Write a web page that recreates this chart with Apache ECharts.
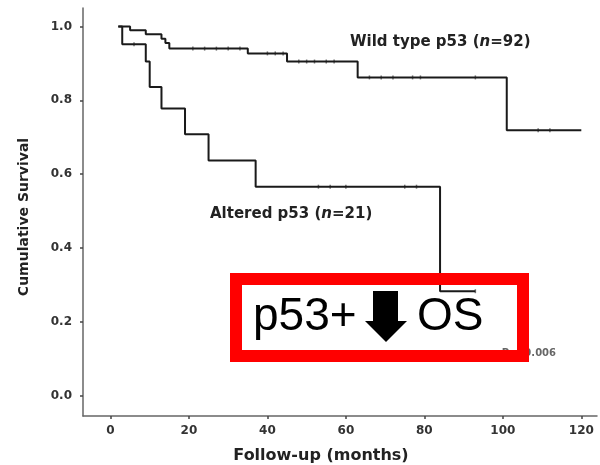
<!DOCTYPE html>
<html>
<head>
<meta charset="utf-8">
<script src="https://cdn.jsdelivr.net/npm/echarts@6/dist/echarts.min.js"></script>
<style>html,body{margin:0;padding:0;background:#fff;}#c{width:600px;height:465px;}</style>
</head>
<body>
<div id="c"></div>
<script>
// Wild type p53 (n=92)
var wildTimes = [2, 5, 9, 13, 14, 15, 35, 45, 63, 101, 120];
var wildSurv  = [1.0, 0.99, 0.979, 0.967, 0.955, 0.94, 0.927, 0.905, 0.862, 0.719, 0.719];
var wildCensorTimes = [21, 24, 27, 30, 33, 40, 42, 44, 48, 50, 52, 55, 57, 66, 69, 72, 77, 79, 93, 109, 112];
// Altered p53 (n=21)
var altTimes = [2, 3, 9, 10, 13, 19, 25, 37, 84, 93];
var altSurv  = [1.0, 0.952, 0.905, 0.836, 0.778, 0.708, 0.637, 0.566, 0.283, 0.283];
var altCensorTimes = [6, 53, 56, 60, 75, 78, 93];
var xTicks = [0, 20, 40, 60, 80, 100, 120];
var yTicks = [0.0, 0.2, 0.4, 0.6, 0.8, 1.0];

function stepValueAt(times, surv, t) {
  var v = surv[0];
  for (var i = 0; i < times.length; i++) { if (times[i] <= t) v = surv[i]; }
  return v;
}
function pairs(a, b) { return a.map(function (x, i) { return [x, b[i]]; }); }
var wildCensor = wildCensorTimes.map(function (t) { return [t, stepValueAt(wildTimes, wildSurv, t)]; });
var altCensor = altCensorTimes.map(function (t) { return [t, stepValueAt(altTimes, altSurv, t)]; });

var chart = echarts.init(document.getElementById('c'), null, {renderer: 'canvas'});
var lblFont = 'DejaVu Sans';
function richLabel(pre, post) {
  return {
    text: '{b|' + pre + '}{i|n}{b|' + post + '}', verticalAlign: 'middle',
    rich: {b: {fontFamily: lblFont, fontWeight: 'bold', fontSize: 15, fill: '#222'},
           i: {fontFamily: lblFont, fontWeight: 'bold', fontStyle: 'italic', fontSize: 15, fill: '#222'}}
  };
}
var wildLbl = richLabel('Wild type p53 (', '=92)'); wildLbl.x = 350; wildLbl.y = 42;
var altLbl = richLabel('Altered p53 (', '=21)'); altLbl.x = 210; altLbl.y = 214;

chart.setOption({
  animation: false,
  backgroundColor: '#fff',
  grid: {left: 83, right: 3, top: 8, bottom: 49, containLabel: false, outerBoundsMode: 'none'},
  xAxis: {
    type: 'value', min: -7, max: 124,
    name: 'Follow-up (months)', nameLocation: 'middle', nameGap: 32,
    nameTextStyle: {fontFamily: lblFont, fontWeight: 'bold', fontSize: 16, color: '#222', padding: [0, 38, 0, 0]},
    axisLine: {show: true, onZero: false, lineStyle: {color: '#666', width: 1.5}},
    axisTick: {show: true, customValues: xTicks, length: 3, lineStyle: {color: '#444', width: 1.5}},
    axisLabel: {customValues: xTicks, fontFamily: lblFont, fontWeight: 'bold', fontSize: 12, color: '#333', margin: 9},
    splitLine: {show: false}
  },
  yAxis: {
    type: 'value', min: -0.055, max: 1.05,
    name: 'Cumulative Survival', nameLocation: 'middle', nameGap: 52,
    nameTextStyle: {fontFamily: lblFont, fontWeight: 'bold', fontSize: 14, color: '#222', padding: [0, 10, 0, 0]},
    axisLine: {show: true, onZero: false, lineStyle: {color: '#666', width: 1.5}},
    axisTick: {show: true, customValues: yTicks, length: 3, lineStyle: {color: '#444', width: 1.5}},
    axisLabel: {customValues: yTicks, fontFamily: lblFont, fontWeight: 'bold', fontSize: 12, color: '#333', margin: 11,
      formatter: function (v) { return v.toFixed(1); }},
    splitLine: {show: false}
  },
  series: [
    {name: 'Wild type p53', type: 'line', step: 'end', data: pairs(wildTimes, wildSurv), symbol: 'none',
      lineStyle: {color: '#1a1a1a', width: 2}},
    {name: 'Altered p53', type: 'line', step: 'end', data: pairs(altTimes, altSurv), symbol: 'none',
      lineStyle: {color: '#1a1a1a', width: 2}},
    {name: 'Wild censored', type: 'scatter', data: wildCensor, symbol: 'rect', symbolSize: [1.5, 4],
      itemStyle: {color: '#555'}},
    {name: 'Altered censored', type: 'scatter', data: altCensor, symbol: 'rect', symbolSize: [1.5, 4],
      itemStyle: {color: '#555'}}
  ],
  graphic: [
    {type: 'text', style: wildLbl},
    {type: 'text', style: altLbl},
    {type: 'text', z: 1, style: {x: 556, y: 353, text: 'P = 0.006', align: 'right', verticalAlign: 'middle',
      font: 'bold 10px "DejaVu Sans"', fill: '#666'}},
    {type: 'rect', z: 10, shape: {x: 236, y: 279, width: 287, height: 77},
      style: {fill: 'none', stroke: '#ff0000', lineWidth: 12}},
    {type: 'text', z: 11, style: {x: 253, y: 317, text: 'p53+', verticalAlign: 'middle',
      font: '46px "Liberation Sans"', fill: '#000'}},
    {type: 'polygon', z: 11, shape: {points: [[373, 291], [398, 291], [398, 321], [407, 321], [386, 342], [365, 321], [373, 321]]},
      style: {fill: '#000'}},
    {type: 'text', z: 11, style: {x: 417, y: 317, text: 'OS', verticalAlign: 'middle',
      font: '46px "Liberation Sans"', fill: '#000'}}
  ]
});
</script>
</body>
</html>
